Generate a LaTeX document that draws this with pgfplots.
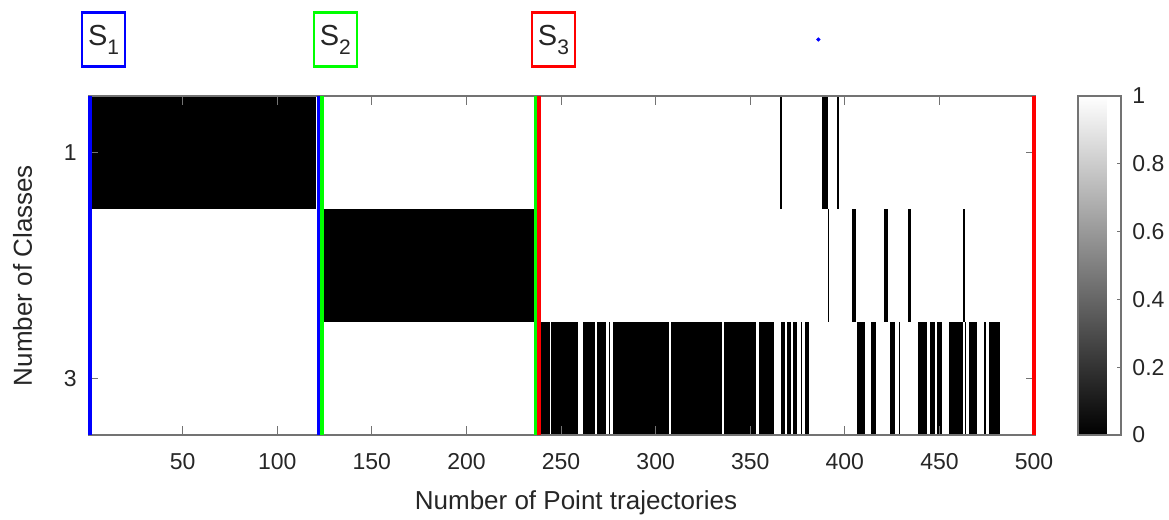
\documentclass[border=0pt]{standalone}
\usepackage{fontspec}
\setmainfont{Liberation Sans}
\usepackage{pgfplots}
\pgfplotsset{compat=1.18}
\definecolor{axgray}{gray}{0.45}
\definecolor{txtgray}{gray}{0.15}
\pgfkeys{/pgf/number format/assume math mode=true}
% black cell block: x-from, x-to, y-top, y-bottom
\newcommand{\blk}[4]{\addplot[fill=black,draw=none,forget plot] coordinates {(#1,#3) (#2,#3) (#2,#4) (#1,#4)};}
\begin{document}
\begin{tikzpicture}
\useasboundingbox (-44.5pt,-42.5pt) rectangle (540pt,217.5pt);
\begin{axis}[
  scale only axis, width=473pt, height=169.5pt,
  xmin=0.5, xmax=500.5, ymin=0.5, ymax=3.5, y dir=reverse,
  axis on top,
  xtick={50,100,150,200,250,300,350,400,450,500},
  ytick={1,3},
  xtick pos=both, ytick pos=both,
  xticklabel pos=bottom, yticklabel pos=left,
  tick align=inside, major tick length=4.5pt,
  tick style={axgray, line width=0.5pt},
  axis line style={axgray, line width=0.6pt},
  tick label style={font=\fontsize{11.5}{13}\selectfont, text=txtgray},
  xticklabel style={anchor=base, yshift=-17.2pt, inner sep=0pt},
  yticklabel style={anchor=east, xshift=-6pt, inner sep=0pt},
  xlabel={Number of Point trajectories},
  ylabel={Number of Classes},
  label style={font=\fontsize{13}{15}\selectfont, text=txtgray},
  xlabel style={at={(axis description cs:0.5148,-0.2183)}, anchor=base},
  ylabel style={at={(axis description cs:-0.0702,0.4705)}, anchor=center},
  colormap={bw}{gray(0cm)=(0); gray(1cm)=(1)},
  point meta min=0, point meta max=1,
  colorbar,
  colorbar style={
    at={(parent axis.north east)}, anchor=north west, xshift=13pt,
    scale only axis, width=21.5pt,
    ytick={0,0.2,0.4,0.6,0.8,1},
    ytick pos=right, yticklabel pos=right,
    tick align=inside, major tick length=1.8pt,
    tick style={axgray, line width=0.5pt},
    axis line style={axgray, line width=0.6pt},
    yticklabel style={font=\fontsize{11.5}{13}\selectfont, text=txtgray, anchor=west, inner sep=0pt, xshift=5.5pt},
  },
]
% class 1 (row 1)
\blk{0.5}{120.5}{0.5}{1.5}
\blk{365.9}{366.7}{0.5}{1.5}
\blk{387.7}{391.3}{0.5}{1.5}
\blk{395.6}{397.0}{0.5}{1.5}
% class 2 (row 2)
\blk{121.5}{236.5}{1.5}{2.5}
\blk{391.3}{391.8}{1.5}{2.5}
\blk{403.8}{405.9}{1.5}{2.5}
\blk{420.7}{422.6}{1.5}{2.5}
\blk{433.5}{434.7}{1.5}{2.5}
\blk{462.4}{463.6}{1.5}{2.5}
% class 3 (row 3)
\blk{237.5}{243.9}{2.5}{3.5}
\blk{244.6}{258.8}{2.5}{3.5}
\blk{261.8}{268.0}{2.5}{3.5}
\blk{269.2}{273.8}{2.5}{3.5}
\blk{275.1}{275.6}{2.5}{3.5}
\blk{277.3}{307.0}{2.5}{3.5}
\blk{308.0}{335.2}{2.5}{3.5}
\blk{336.0}{352.8}{2.5}{3.5}
\blk{354.8}{362.6}{2.5}{3.5}
\blk{366.5}{368.4}{2.5}{3.5}
\blk{369.2}{371.3}{2.5}{3.5}
\blk{372.7}{374.5}{2.5}{3.5}
\blk{376.6}{377.3}{2.5}{3.5}
\blk{378.7}{380.8}{2.5}{3.5}
\blk{406.2}{410.4}{2.5}{3.5}
\blk{413.8}{416.5}{2.5}{3.5}
\blk{423.8}{426.6}{2.5}{3.5}
\blk{428.4}{429.3}{2.5}{3.5}
\blk{438.8}{443.5}{2.5}{3.5}
\blk{445.0}{447.6}{2.5}{3.5}
\blk{448.9}{451.1}{2.5}{3.5}
\blk{455.0}{462.4}{2.5}{3.5}
\blk{463.6}{464.2}{2.5}{3.5}
\blk{465.8}{470.0}{2.5}{3.5}
\blk{473.7}{474.5}{2.5}{3.5}
\blk{476.0}{482.0}{2.5}{3.5}
\end{axis}
\begin{axis}[
  at={(0,0)}, anchor=south west,
  scale only axis, width=473pt, height=169.5pt,
  xmin=0.5, xmax=500.5, ymin=0.5, ymax=3.5, y dir=reverse,
  hide axis, clip=false,
]
\addplot[blue, line width=2pt] coordinates {(1.2,0.5) (1.2,3.5)};
\addplot[blue, line width=2pt] coordinates {(121.8,0.5) (121.8,3.5)};
\addplot[green, line width=2pt] coordinates {(123.6,0.5) (123.6,3.5)};
\addplot[green, line width=2pt] coordinates {(237.0,0.5) (237.0,3.5)};
\addplot[red, line width=2pt] coordinates {(238.3,0.5) (238.3,3.5)};
\addplot[red, line width=2pt] coordinates {(500.2,0.5) (500.2,3.5)};
\addplot[only marks, mark=*, mark size=0.8pt, blue] coordinates {(386,0)};
\node[draw=blue, line width=1.1pt, minimum width=21.5pt, minimum height=27pt, inner sep=0pt, text=txtgray, font=\fontsize{14.5}{16}\selectfont] at (axis cs:8.2,0) {S\raisebox{-4.5pt}{\fontsize{10.5}{12}\selectfont 1}};
\node[draw=green, line width=1.1pt, minimum width=21.5pt, minimum height=27pt, inner sep=0pt, text=txtgray, font=\fontsize{14.5}{16}\selectfont] at (axis cs:130.7,0) {S\raisebox{-4.5pt}{\fontsize{10.5}{12}\selectfont 2}};
\node[draw=red, line width=1.1pt, minimum width=21.5pt, minimum height=27pt, inner sep=0pt, text=txtgray, font=\fontsize{14.5}{16}\selectfont] at (axis cs:246,0) {S\raisebox{-4.5pt}{\fontsize{10.5}{12}\selectfont 3}};
\end{axis}
\end{tikzpicture}
\end{document}
